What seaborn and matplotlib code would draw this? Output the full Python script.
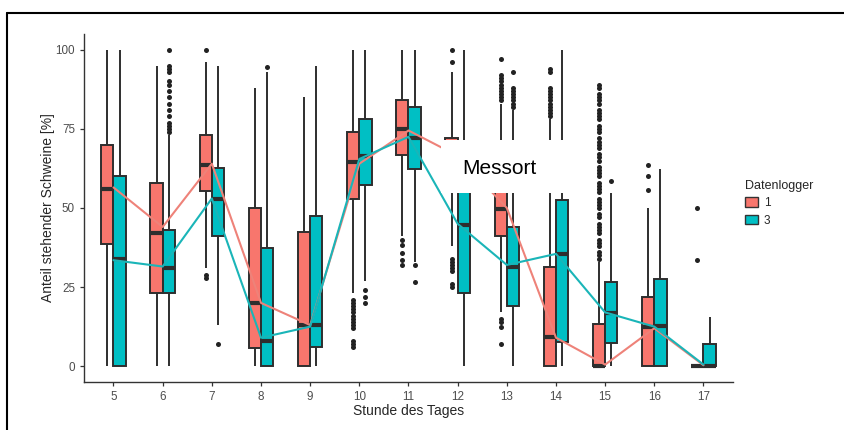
import numpy as np
import pandas as pd
import matplotlib
matplotlib.use("Agg")
import matplotlib.pyplot as plt
from matplotlib.patches import Patch, Rectangle
from matplotlib.lines import Line2D
import seaborn as sns

stunden = [5, 6, 7, 8, 9, 10, 11, 12, 13, 14, 15, 16, 17]
logger = ["1", "3"]

# Boxplot-Kennwerte, Datenlogger 1
lo_1 = [0, 0, 31, 0, 0, 23, 41, 38, 17, 0, 0, 0, 0]
q1_1 = [38.5, 23, 55.5, 5.6, 0, 53, 66.6, 58, 41.2, 0, 0, 0, 0]
med_1 = [56, 42, 63.7, 20, 13, 64.4, 75, 66, 49.7, 9.3, 0, 12.5, 0]
q3_1 = [70, 58, 73, 50, 42.5, 74, 84, 72, 58, 31.5, 13.3, 21.8, 0]
hi_1 = [100, 95, 96, 88, 85, 100, 100, 93, 83, 78, 33, 50, 0]

# Boxplot-Kennwerte, Datenlogger 3
lo_3 = [0, 0, 13, 0, 0, 27, 33, 0, 0, 0, 0, 0, 0]
q1_3 = [0, 23, 41, 0, 6, 57.3, 62.3, 23, 19, 7.7, 7.2, 0, 0]
med_3 = [33.8, 31, 52.8, 8, 13, 66.3, 72, 44.7, 31.3, 35.4, 16.7, 12.8, 0]
q3_3 = [60.2, 43, 62.6, 37.5, 47.6, 78, 82, 62, 43.9, 52.6, 26.7, 27.5, 7]
hi_3 = [100, 73, 95, 93, 95, 100, 100, 100, 81, 100, 54.7, 62.3, 15.6]

# Ausreisser je Stunde
aus_1 = [
    [], [], [100, 28.8, 27.8], [], [],
    [21, 20, 19, 18, 17, 16, 15, 14, 13, 12, 8, 7, 6],
    [40, 38.3, 35.7, 33.6, 32],
    [100, 96, 34, 33, 32, 31, 30, 26, 25],
    [97, 92, 91, 90, 89, 88, 87, 86, 85, 84, 15, 14, 12.5, 7],
    [94, 93, 88, 87, 86, 85, 84, 83, 82, 81, 80, 79],
    [34, 35, 36, 38, 39, 40, 42, 43, 44, 45, 47, 48, 50, 51, 52, 53, 55, 56,
     57, 58, 60, 61, 62, 63, 65, 66, 67, 69, 70, 71, 72, 74, 75, 76, 78, 79,
     80, 81, 83, 84, 85, 86, 88, 89],
    [63.7, 60.2, 55.8],
    [50, 33.6],
]
aus_3 = [
    [],
    [100, 95, 94, 93, 90, 89, 87, 85, 83, 81, 79, 77, 76, 75, 74],
    [7], [94.5], [],
    [24, 22, 20],
    [32, 26.5],
    [],
    [93, 88, 87, 86, 85, 84, 83, 82],
    [], [58.4], [], [],
]

# Mittelwerte (Linien)
mittel_1 = [56.5, 44, 64, 20, 13, 64, 74.5, 66.5, 50, 9, 0.5, 12, 0.3]
mittel_3 = [33.5, 31.5, 53, 9, 12.5, 65.5, 72.5, 45, 32, 35.5, 17, 12.5, 0.5]

pal = {"1": "#F8766D", "3": "#00BFC4"}
linien_pal = {"1": "#EE8279", "3": "#1AB5B8"}


def box_rows(lo, q1, med, q3, hi, name):
    rows = []
    for h, a, b, c, d, e in zip(stunden, lo, q1, med, q3, hi):
        for v in (a, b, c, d, e):
            rows.append({"Stunde": h, "Anteil": v, "Datenlogger": name})
    return rows


box_df = pd.DataFrame(box_rows(lo_1, q1_1, med_1, q3_1, hi_1, "1")
                      + box_rows(lo_3, q1_3, med_3, q3_3, hi_3, "3"))

versatz = {"1": -0.125, "3": 0.125}
aus_rows = []
for name, aus in (("1", aus_1), ("3", aus_3)):
    for h, werte in zip(stunden, aus):
        for v in werte:
            aus_rows.append({"x": h + versatz[name], "Anteil": v})
aus_df = pd.DataFrame(aus_rows)

mittel_df = pd.DataFrame({
    "Stunde": stunden * 2,
    "Mittel": mittel_1 + mittel_3,
    "Datenlogger": ["1"] * len(stunden) + ["3"] * len(stunden),
})

sns.set_style("ticks")
plt.rcParams["font.family"] = ["Liberation Sans", "DejaVu Sans"]

fig = plt.figure(figsize=(8.44, 4.30), dpi=100, facecolor="white")
ax = fig.add_axes([84 / 844, 1 - 382 / 430, 649 / 844, 348 / 430])

sns.boxplot(data=box_df, x="Stunde", y="Anteil", hue="Datenlogger",
            hue_order=logger, palette=pal, width=0.5, whis=(0, 100),
            showfliers=False, showcaps=False, native_scale=True,
            linewidth=1.4, linecolor="#2E2E2E", saturation=1,
            medianprops=dict(linewidth=3.0, color="#2E2E2E"),
            legend=False, ax=ax)

sns.scatterplot(data=aus_df, x="x", y="Anteil", color="#222222", s=13,
                linewidth=0, legend=False, ax=ax, zorder=3)

sns.lineplot(data=mittel_df, x="Stunde", y="Mittel", hue="Datenlogger",
             hue_order=logger, palette=linien_pal, linewidth=1.5,
             legend=False, ax=ax, zorder=4)

ax.set_xlim(4.4, 17.6)
ax.set_ylim(-5, 105)
ax.set_xticks(stunden)
ax.set_xticklabels([str(h) for h in stunden])
ax.set_yticks([0, 25, 50, 75, 100])
ax.tick_params(axis="both", labelsize=8.4, labelcolor="#4D4D4D",
               color="#333333", length=3, width=0.9)
ax.set_xlabel("Stunde des Tages", fontsize=10, labelpad=1)
ax.set_ylabel("Anteil stehender Schweine [%]", fontsize=10, labelpad=0.5)
sns.despine(ax=ax)
for s in ("left", "bottom"):
    ax.spines[s].set_color("#333333")
    ax.spines[s].set_linewidth(1.0)

handles = [Patch(facecolor=pal[k], edgecolor="#333333", linewidth=1.0)
           for k in logger]
fig.legend(handles, logger, title="Datenlogger", loc="upper left",
           bbox_to_anchor=(745 / 844, 1 - 180 / 430), frameon=False,
           fontsize=8.5, title_fontsize=9, handlelength=1.1,
           handleheight=0.9, handletextpad=0.5, labelspacing=0.45,
           borderaxespad=0, borderpad=0, alignment="left")

# weisses Feld "Messort"
fig.add_artist(Rectangle((441 / 844, 1 - 193 / 430), 122 / 844, 53 / 430,
                         transform=fig.transFigure, facecolor="white",
                         edgecolor="none", zorder=10))
fig.text(462 / 844, 1 - 174 / 430, "Messort", fontsize=15, color="black",
         ha="left", va="baseline", zorder=11)

# Rahmen oben und links
fig.add_artist(Line2D([7 / 844, 1], [1 - 13 / 430, 1 - 13 / 430],
                      color="black", linewidth=1.5))
fig.add_artist(Line2D([7 / 844, 7 / 844], [0, 1 - 13 / 430],
                      color="black", linewidth=1.5))

fig.savefig("out.png", dpi=100, facecolor="white")
